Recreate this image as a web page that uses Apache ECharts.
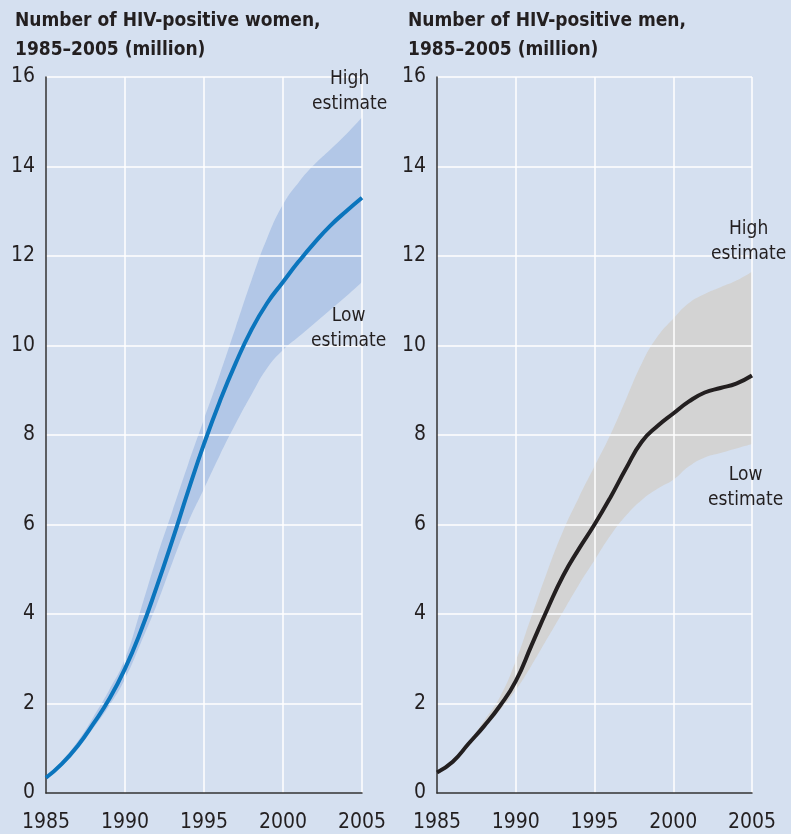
<!DOCTYPE html>
<html>
<head>
<meta charset="utf-8">
<script src="https://cdn.jsdelivr.net/npm/echarts@6/dist/echarts.min.js"></script>
<style>
html,body{margin:0;padding:0;background:#d5e0f0;}
#chart{width:791px;height:834px;}
</style>
</head>
<body>
<div id="chart"></div>
<script>
const years = ['1985','1986','1987','1988','1989','1990','1991','1992','1993','1994','1995','1996','1997','1998','1999','2000','2001','2002','2003','2004','2005'];
const womenCentral = [0.34,0.65,1.05,1.55,2.1,2.78,3.62,4.6,5.65,6.75,7.8,8.75,9.6,10.35,10.95,11.42,11.88,12.3,12.68,13.0,13.3];
const womenHigh = [0.36,0.72,1.15,1.7,2.3,3.0,4.1,5.25,6.3,7.35,8.35,9.35,10.4,11.45,12.4,13.15,13.65,14.05,14.38,14.72,15.1];
const womenLow = [0.32,0.6,0.98,1.45,1.95,2.55,3.35,4.2,5.15,6.05,6.8,7.55,8.25,8.9,9.5,9.9,10.2,10.5,10.8,11.1,11.42];
const menCentral = [0.46,0.7,1.1,1.5,1.95,2.5,3.3,4.1,4.85,5.45,6.0,6.6,7.25,7.85,8.2,8.48,8.75,8.95,9.05,9.15,9.33];
const menHigh = [0.47,0.75,1.15,1.62,2.15,2.95,3.95,4.95,5.85,6.6,7.3,8.0,8.8,9.6,10.2,10.6,10.95,11.15,11.3,11.45,11.65];
const menLow = [0.45,0.68,1.05,1.45,1.85,2.3,2.85,3.45,4.05,4.65,5.2,5.75,6.2,6.55,6.8,7.0,7.3,7.5,7.6,7.7,7.8];
const yTicks = {min: 0, max: 16, interval: 2};
const titleWomen = 'Number of HIV-positive women,\n1985–2005 (million)';
const titleMen = 'Number of HIV-positive men,\n1985–2005 (million)';
const highText = 'High\nestimate';
const lowText = 'Low\nestimate';

const FONT = "'Liberation Sans Narrow', 'DejaVu Sans Condensed', 'Liberation Sans', Arial, sans-serif";
const TXT = '#231f20';

function xAxisCfg(gi) {
  return {
    type: 'category', gridIndex: gi, data: years, boundaryGap: false, z: 3,
    axisLine: {show: true, onZero: false, lineStyle: {color: '#333', width: 1.5}},
    axisTick: {show: false},
    axisLabel: {interval: 4, color: TXT, fontFamily: FONT, fontSize: 21, margin: 19},
    splitLine: {show: true, interval: 4, showMinLine: false, lineStyle: {color: '#ffffff', width: 1.5}}
  };
}
function yAxisCfg(gi) {
  return {
    type: 'value', gridIndex: gi, min: yTicks.min, max: yTicks.max, interval: yTicks.interval, z: 4,
    axisLine: {show: true, lineStyle: {color: '#333', width: 1.5}},
    axisTick: {show: false},
    axisLabel: {color: TXT, fontFamily: FONT, fontSize: 21, margin: 11},
    splitLine: {show: true, showMinLine: false, lineStyle: {color: '#ffffff', width: 1.5}}
  };
}
function bandSeries(gi, low, high, color, key) {
  return [
    {type: 'line', xAxisIndex: gi, yAxisIndex: gi, stack: key, data: low, smooth: true, symbol: 'none',
     lineStyle: {opacity: 0, width: 0}, z: 1, silent: true},
    {type: 'line', xAxisIndex: gi, yAxisIndex: gi, stack: key, data: high.map((v, i) => +(v - low[i]).toFixed(3)),
     smooth: true, symbol: 'none', lineStyle: {opacity: 0, width: 0}, areaStyle: {color: color, opacity: 1}, z: 1, silent: true}
  ];
}
function mainSeries(gi, data, color) {
  return {type: 'line', xAxisIndex: gi, yAxisIndex: gi, data: data, smooth: true, symbol: 'none',
    lineStyle: {color: color, width: 4}, z: 6};
}
const titleStyle = {color: TXT, fontFamily: FONT, fontSize: 19, fontWeight: 'bold', lineHeight: 29};
const noteStyle = (x, y, t) => ({type: 'text', left: x, top: y, z: 10,
  style: {text: t, fill: TXT, font: '19px ' + FONT, textAlign: 'center', lineHeight: 25}});

const chart = echarts.init(document.getElementById('chart'));
chart.setOption({
  backgroundColor: '#d5e0f0',
  animation: false,
  title: [
    {text: titleWomen, left: 10, top: 2, textStyle: titleStyle},
    {text: titleMen, left: 403, top: 2, textStyle: titleStyle}
  ],
  grid: [
    {left: 46, right: 429, top: 77, bottom: 41},
    {left: 437, right: 39, top: 77, bottom: 41}
  ],
  xAxis: [xAxisCfg(0), xAxisCfg(1)],
  yAxis: [yAxisCfg(0), yAxisCfg(1)],
  series: [
    ...bandSeries(0, womenLow, womenHigh, '#b2c7e7', 'w'),
    mainSeries(0, womenCentral, '#0b75bd'),
    ...bandSeries(1, menLow, menHigh, '#d3d3d3', 'm'),
    mainSeries(1, menCentral, '#231f20')
  ],
  graphic: [
    noteStyle(312, 67, highText),
    noteStyle(311, 304, lowText),
    noteStyle(711, 217, highText),
    noteStyle(708, 463, lowText)
  ]
});
</script>
</body>
</html>
